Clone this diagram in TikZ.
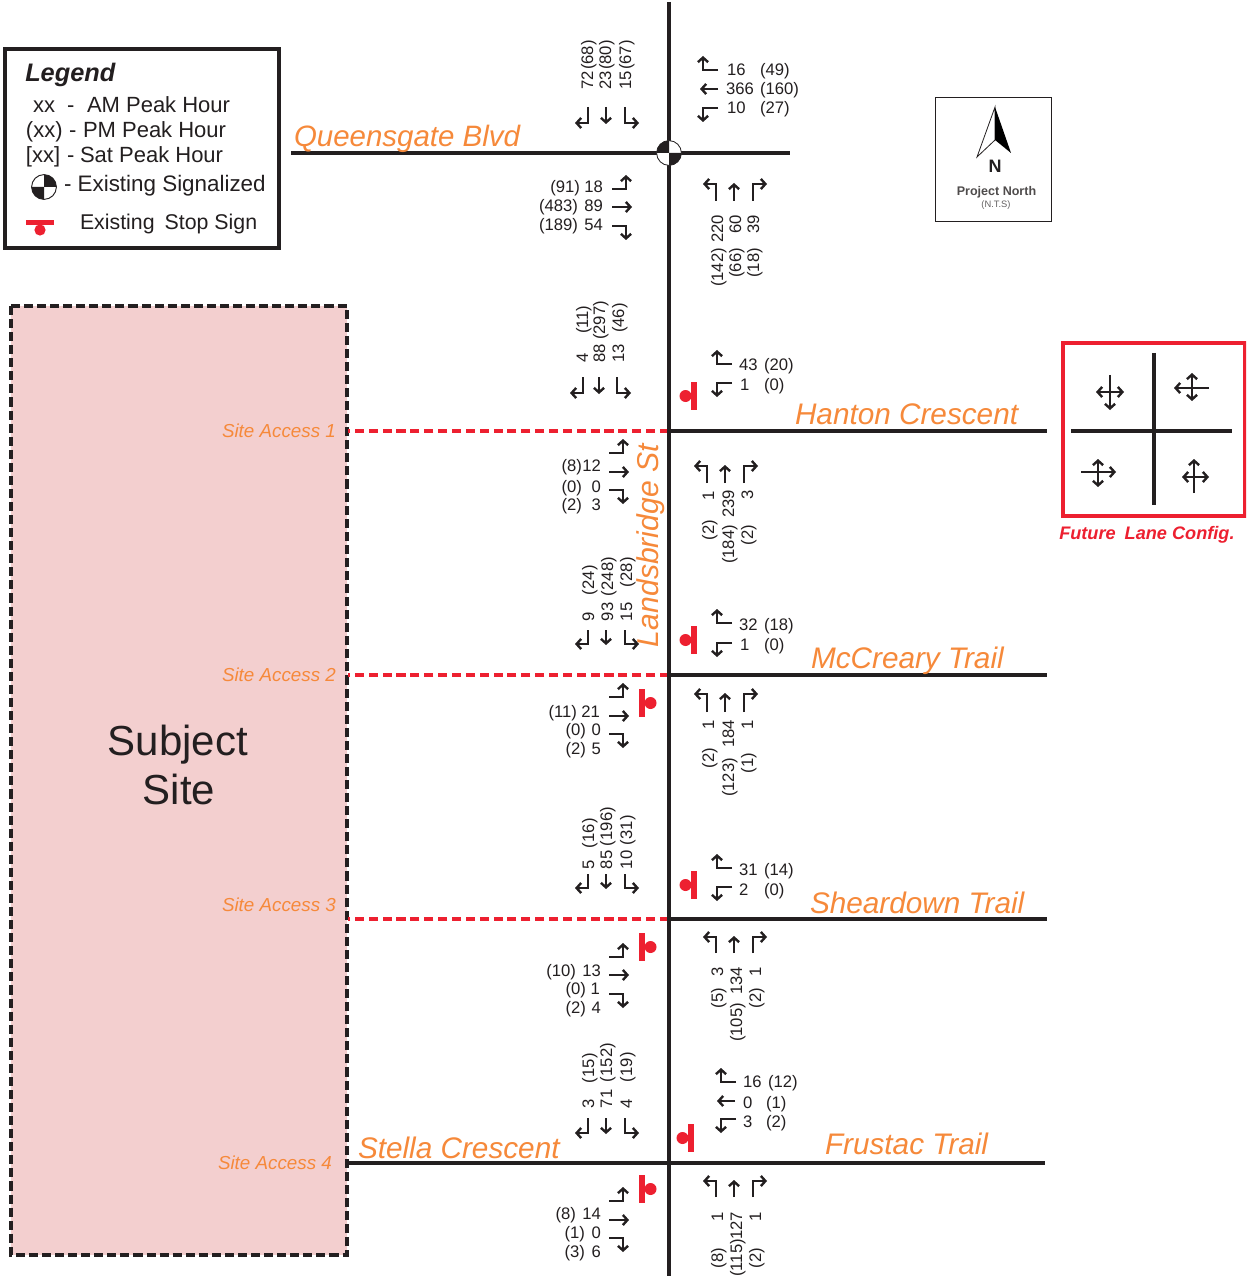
\documentclass[tikz,border=0pt]{standalone}
\usepackage{fontspec}
\setmainfont{Liberation Sans}
\usetikzlibrary{arrows.meta}
\definecolor{ink}{HTML}{231F20}
\definecolor{org}{HTML}{F6893A}
\definecolor{stopred}{HTML}{ED2030}
\definecolor{sitepink}{HTML}{F3CFCF}
\tikzset{
 x=0.75pt,y=-0.75pt,
 barb/.tip={Straight Barb[length=3.4pt,width=7.6pt,line width=1.8pt]},
 road/.style={draw=ink,line width=3.2pt},
 tr/.style={draw=ink,line width=0.9pt,-barb},
 trboth/.style={draw=ink,line width=0.9pt,barb-barb},
 tx/.style={inner sep=0pt,outer sep=0pt,text=ink,font=\fontsize{12.5}{14}\selectfont},
 streetname/.style={inner sep=0pt,outer sep=0pt,text=org,anchor=base west,font=\fontsize{22.3}{24}\selectfont\itshape},
 access/.style={inner sep=0pt,outer sep=0pt,text=org,anchor=base west,font=\fontsize{14.1}{16}\selectfont\itshape},
 leg/.style={inner sep=0pt,outer sep=0pt,text=ink,anchor=base west,font=\fontsize{16.5}{18}\selectfont},
 redd/.style={draw=stopred,line width=2.7pt,dash pattern=on 6.8pt off 3.6pt},
}
% right-aligned pair: right edge of a, right edge of b, centre y
\newcommand{\tR}[5]{\node[tx,anchor=base east] at (#1,#3+6) {#4}; \node[tx,anchor=base east] at (#2,#3+6) {#5};}
% left-aligned pair
\newcommand{\tL}[5]{\node[tx,anchor=base west] at (#1,#3+6) {#4}; \node[tx,anchor=base west] at (#2,#3+6) {#5};}
% rotated, a and b start at bottoms y1,y2
\newcommand{\rB}[5]{\node[tx,anchor=base west,rotate=90] at (#1+6,#2) {#4}; \node[tx,anchor=base west,rotate=90] at (#1+6,#3) {#5};}
% rotated, a and b end at tops y1,y2
\newcommand{\rT}[5]{\node[tx,anchor=base east,rotate=90] at (#1+6,#2) {#4}; \node[tx,anchor=base east,rotate=90] at (#1+6,#3) {#5};}
\newcommand{\SBg}[5]{%
 \draw[tr] (#1,#4)--(#1,#5)--(#1-13,#5);
 \draw[tr] (#2,#4)--(#2,#5+1);
 \draw[tr] (#3,#4)--(#3,#5)--(#3+14,#5);}
\newcommand{\NBg}[5]{%
 \draw[tr] (#1,#5)--(#1,#4)--(#1-13,#4);
 \draw[tr] (#2,#5)--(#2,#4-1);
 \draw[tr] (#3,#5)--(#3,#4)--(#3+14,#4);}
\newcommand{\WBt}[2]{\draw[tr] (#1+15,#2)--(#1,#2)--(#1,#2-14);}
\newcommand{\WBs}[2]{\draw[tr] (#1+15,#2)--(#1-3,#2);}
\newcommand{\WBd}[2]{\draw[tr] (#1+15,#2)--(#1,#2)--(#1,#2+14);}
\newcommand{\EBg}[4]{%
 \draw[tr] (#1,#2)--(#1+14,#2)--(#1+14,#2-14);
 \draw[tr] (#1,#3)--(#1+20,#3);
 \draw[tr] (#1,#4)--(#1+14,#4)--(#1+14,#4+14);}
\newcommand{\stopL}[2]{\fill[stopred] (#1-3,#2-14) rectangle (#1+3,#2+14); \fill[stopred] (#1-8.5,#2) circle[radius=4.5pt];}
\newcommand{\stopR}[2]{\fill[stopred] (#1-3,#2-14) rectangle (#1+3,#2+14); \fill[stopred] (#1+8.5,#2) circle[radius=4.5pt];}
\begin{document}
\begin{tikzpicture}
\useasboundingbox (0,0) rectangle (1246,1276);
\clip (0,0) rectangle (1246,1276);
\fill[white] (0,0) rectangle (1246,1276);
% site
\draw[fill=sitepink,draw=ink,line width=2.7pt,dash pattern=on 6.8pt off 3pt] (11,306) rectangle (347,1255);
\node[inner sep=0pt,text=ink,anchor=base,font=\fontsize{31.5}{34}\selectfont] (subj1) at (178,755) {Subject};
\node[inner sep=0pt,text=ink,anchor=base,font=\fontsize{31.5}{34}\selectfont] (subj2) at (179,804) {Site};
% dashed accesses
\draw[redd] (669,431)--(348,431);
\draw[redd] (669,675)--(348,675);
\draw[redd] (669,919)--(348,919);
% roads
\draw[road] (669,2)--(669,1276);
\draw[road] (291,153)--(790,153);
\draw[road] (669,431)--(1047,431);
\draw[road] (669,675)--(1047,675);
\draw[road] (669,919)--(1047,919);
\draw[road] (347,1163)--(1045,1163);
% signal
\fill[white] (669,153) circle[radius=9.3pt];
\fill[ink] (669,153) -- +(-9.3pt,0pt) arc[start angle=180,end angle=90,radius=9.3pt] -- cycle;
\fill[ink] (669,153) -- +(9.3pt,0pt) arc[start angle=0,end angle=-90,radius=9.3pt] -- cycle;
\draw[ink,line width=0.6pt] (669,153) circle[radius=9.3pt];
% street names
\node[streetname,font=\fontsize{22.1}{24}\selectfont\itshape] (qb) at (294,147) {Queensgate Blvd};
\node[streetname] (hc) at (795,424) {Hanton Crescent};
\node[streetname] (mt) at (811,668) {McCreary Trail};
\node[streetname] (st) at (810,913) {Sheardown Trail};
\node[streetname] (sc) at (358,1158) {Stella Crescent};
\node[streetname] (ft) at (825,1154) {Frustac Trail};
\node[streetname,rotate=90,font=\fontsize{22.6}{24}\selectfont\itshape] (ls) at (658,647) {Landsbridge St};
\node[access] at (222,437) {Site Access 1};
\node[access] at (222,681) {Site Access 2};
\node[access] at (222,911) {Site Access 3};
\node[access] at (218,1169) {Site Access 4};
% legend
\draw[draw=ink,line width=2.7pt,fill=white] (5,49) rectangle (279,248);
\node[inner sep=0pt,text=ink,anchor=base west,font=\fontsize{19}{21}\selectfont\bfseries\itshape] at (25,82) {Legend};
\node[leg] at (33,113) {xx}; \node[leg] at (67,113) {-}; \node[leg] at (87,113) {AM Peak Hour};
\node[leg] at (26,138) {(xx)}; \node[leg] at (69,138) {-}; \node[leg] at (83,138) {PM Peak Hour};
\node[leg] at (26,163) {[xx]}; \node[leg] at (67,163) {-}; \node[leg] at (80,163) {Sat Peak Hour};
\node[leg,font=\fontsize{16.8}{18}\selectfont] at (64,192) {- Existing Signalized};
\node[leg,font=\fontsize{16}{18}\selectfont] at (80,230) {Existing\hspace{3pt} Stop Sign};
\fill[white] (44,187) circle[radius=9.3pt];
\fill[ink] (44,187) -- +(-9.3pt,0pt) arc[start angle=180,end angle=270,radius=9.3pt] -- cycle;
\fill[ink] (44,187) -- +(9.3pt,0pt) arc[start angle=0,end angle=90,radius=9.3pt] -- cycle;
\draw[ink,line width=0.7pt] (44,187) circle[radius=9.3pt];
\fill[stopred] (26,220) rectangle (54,225);
\fill[stopred] (40,230) circle[radius=4.2pt];
% north
\draw[draw=ink,line width=0.6pt,fill=white] (935,97) rectangle (1051,221);
\draw[ink,line width=0.6pt,fill=white] (995,107)--(977,157)--(995,140)--cycle;
\fill[black] (995,107)--(1011,153)--(995,140)--cycle;
\node[inner sep=0pt,text=ink,font=\fontsize{13.5}{15}\selectfont\bfseries] (n) at (995,166) {N};
\node[inner sep=0pt,text=ink!80,font=\fontsize{9.4}{11}\selectfont\bfseries] (pn) at (996.5,192) {Project North};
\node[inner sep=0pt,text=ink!70,font=\fontsize{7}{8}\selectfont] (nts) at (996,205) {(N.T.S)};
% future lane config
\draw[draw=stopred,line width=3pt] (1063,343) rectangle (1245,516);
\draw[road] (1154,353)--(1154,505);
\draw[road] (1071,431)--(1232,431);
\draw[tr] (1110,375)--(1110,410);
\draw[trboth] (1096,392)--(1124,392);
\draw[trboth] (1192,373)--(1192,401);
\draw[tr] (1209,388)--(1174,388);
\draw[trboth] (1098,459)--(1098,487);
\draw[tr] (1081,472)--(1116,472);
\draw[tr] (1194,493)--(1194,459);
\draw[trboth] (1182,477)--(1209,477);
\node[inner sep=0pt,text=stopred,anchor=base west,font=\fontsize{13.6}{15}\selectfont\bfseries\itshape] (flc) at (1059,539) {Future\hspace{3pt} Lane Config.};
% Queensgate
\SBg{588}{606}{625}{107}{123}
\rB{587}{90}{70}{72}{(68)} \rB{605}{90}{70}{23}{(80)} \rB{625}{90}{70}{15}{(67)}
\WBt{703}{70} \WBs{703}{89} \WBd{703}{108}
\tL{727}{760}{70}{16}{(49)} \tL{726}{760}{89}{366}{(160)} \tL{727}{760}{108}{10}{(27)}
\EBg{612}{189}{207}{226}
\tR{603}{580}{187}{18}{(91)} \tR{603}{578}{206}{89}{(483)} \tR{603}{578}{225}{54}{(189)}
\NBg{716}{734}{753}{184}{201}
\rT{717}{215}{248}{220}{(142)} \rT{735}{215}{248}{60}{(66)} \rT{753}{215}{248}{39}{(18)}
% Hanton
\SBg{583}{599}{617}{377}{393}
\rB{582}{363}{334}{4}{(11)} \rB{599}{363}{340}{88}{(297)} \rB{618}{363}{333}{13}{(46)}
\WBt{717}{364} \WBd{717}{383}
\tL{739}{764}{364}{43}{(20)} \tL{740}{764}{384}{1}{(0)}
\stopL{694}{396}
\EBg{609}{453}{472}{490}
\tR{601}{582}{465}{12}{(8)} \tR{601}{582}{486}{0}{(0)} \tR{601}{582}{504}{3}{(2)}
\NBg{707}{725}{744}{466}{483}
\rT{708}{491}{520}{1}{(2)} \rT{728}{490}{525}{239}{(184)} \rT{747}{490}{525}{3}{(2)}
% McCreary
\SBg{588}{606}{625}{630}{644}
\rB{588}{621}{595}{9}{(24)} \rB{607}{621}{596}{93}{(248)} \rB{626}{621}{587}{15}{(28)}
\WBt{717}{623} \WBd{717}{643}
\tL{739}{764}{624}{32}{(18)} \tL{740}{764}{644}{1}{(0)}
\stopL{694}{640}
\EBg{609}{697}{716}{734}
\stopR{642}{703}
\tR{600}{577}{711}{21}{(11)} \tR{601}{586}{729}{0}{(0)} \tR{601}{586}{748}{5}{(2)}
\NBg{707}{725}{744}{694}{712}
\rT{708}{720}{748}{1}{(2)} \rT{728}{720}{758}{184}{(123)} \rT{747}{720}{753}{1}{(1)}
% Sheardown
\SBg{588}{606}{625}{874}{888}
\rB{588}{869}{848}{5}{(16)} \rB{606}{869}{846}{85}{(196)} \rB{626}{869}{845}{10}{(31)}
\WBt{717}{868} \WBd{717}{887}
\tL{739}{764}{869}{31}{(14)} \tL{739}{764}{889}{2}{(0)}
\stopL{694}{885}
\EBg{609}{957}{975}{994}
\stopR{642}{947}
\tR{601}{576}{970}{13}{(10)} \tR{600}{586}{988}{1}{(0)} \tR{601}{586}{1007}{4}{(2)}
\NBg{716}{734}{753}{937}{953}
\rT{717}{967}{988}{3}{(5)} \rT{736}{967}{1003}{134}{(105)} \rT{755}{967}{988}{1}{(2)}
% Frustac
\SBg{588}{606}{625}{1118}{1133}
\rB{588}{1108}{1083}{3}{(15)} \rB{606}{1108}{1082}{71}{(152)} \rB{626}{1108}{1082}{4}{(19)}
\WBt{721}{1082} \WBs{720}{1101} \WBd{721}{1119}
\tL{743}{768}{1081}{16}{(12)} \tL{743}{766}{1102}{0}{(1)} \tL{743}{766}{1121}{3}{(2)}
\stopL{691}{1138}
\EBg{609}{1201}{1220}{1238}
\stopR{642}{1189}
\tR{601}{576}{1213}{14}{(8)} \tR{601}{585}{1232}{0}{(1)} \tR{601}{585}{1251}{6}{(3)}
\NBg{716}{734}{753}{1181}{1197}
\rT{717}{1212}{1248}{1}{(8)} \rT{736}{1212}{1239}{127}{(115)} \rT{755}{1212}{1248}{1}{(2)}
\end{tikzpicture}
\end{document}
